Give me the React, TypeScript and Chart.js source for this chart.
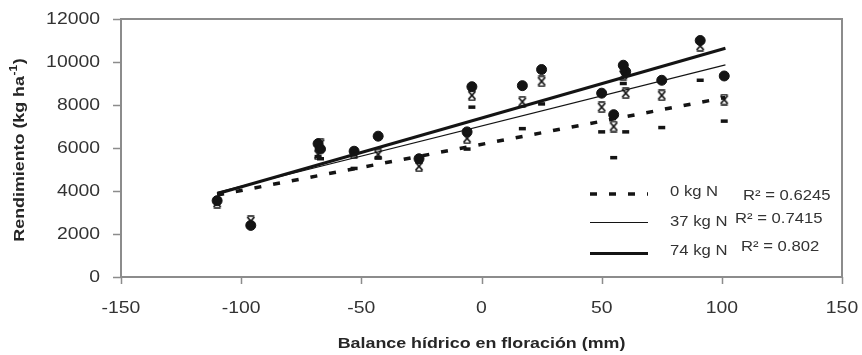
import React, { useEffect, useRef } from 'react';
import { Chart, registerables } from 'chart.js';

Chart.register(...registerables);

// ---- data ----
const xValues = [-110, -96, -68, -67, -53, -43, -26, -6, -4, 17, 25, 50, 55, 59, 60, 75, 91, 101];
const yield0 = [3600, 2450, 5600, 5500, 5050, 5550, 5350, 5950, 7900, 6900, 8050, 6750, 5550, 9000, 6750, 6950, 9150, 7250];
const yield37 = [3450, 2600, 5700, 6200, 5750, 5700, 5150, 6450, 8450, 8150, 9100, 7900, 7000, 9400, 8550, 8450, 10750, 8250];
const yield74 = [3550, 2400, 6200, 5950, 5850, 6550, 5500, 6750, 8850, 8900, 9650, 8550, 7550, 9850, 9550, 9150, 11000, 9350];

const trendX = [-110, 101.5];
const trend0 = [3810, 8350];
const trend37 = [3940, 9870];
const trend74 = [3870, 10640];

const seriesNames = ['0 kg N', '37 kg N', '74 kg N'];
const r2Labels = ['R² = 0.6245', 'R² = 0.7415', 'R² = 0.802'];

const xTicks = [-150, -100, -50, 0, 50, 100, 150];
const yTicks = [0, 2000, 4000, 6000, 8000, 10000, 12000];

const xTitle = 'Balance hídrico en floración (mm)';
const yTitleMain = 'Rendimiento (kg ha';
const yTitleSup = '-1';
const yTitleEnd = ')';

const FAMILY = '"Liberation Sans", Arial, sans-serif';
const SX = 1.19;
const INK = '#141414';

function drawText(
  ctx: CanvasRenderingContext2D,
  s: string,
  x: number,
  y: number,
  font: string,
  align: CanvasTextAlign,
  color: string,
) {
  ctx.save();
  ctx.translate(x, y);
  ctx.scale(SX, 1);
  ctx.font = font;
  ctx.fillStyle = color;
  ctx.textAlign = align;
  ctx.textBaseline = 'middle';
  ctx.fillText(s, 0, 0);
  ctx.restore();
}

const decor = {
  id: 'decor',
  beforeDatasetsDraw(chart: any) {
    const { ctx, chartArea: a, scales } = chart;
    ctx.save();
    ctx.strokeStyle = '#8c8c8c';
    ctx.lineWidth = 2;
    ctx.strokeRect(a.left, a.top, a.right - a.left, a.bottom - a.top);
    ctx.lineWidth = 1.5;
    ctx.beginPath();
    scales.y.ticks.forEach((t: any) => {
      const p = Math.round(scales.y.getPixelForValue(t.value)) + 0.5;
      ctx.moveTo(a.left - 8, p);
      ctx.lineTo(a.left, p);
    });
    scales.x.ticks.forEach((t: any) => {
      const p = Math.round(scales.x.getPixelForValue(t.value)) + 0.5;
      ctx.moveTo(p, a.bottom);
      ctx.lineTo(p, a.bottom + 7);
    });
    ctx.stroke();
    ctx.restore();
  },
  afterDraw(chart: any) {
    const { ctx, chartArea: a, scales } = chart;
    const tickFont = `16.3px ${FAMILY}`;
    scales.y.ticks.forEach((t: any) => {
      drawText(ctx, String(t.value), 100, scales.y.getPixelForValue(t.value) + 0.5, tickFont, 'right', '#333');
    });
    scales.x.ticks.forEach((t: any) => {
      drawText(ctx, String(t.value), scales.x.getPixelForValue(t.value), 309, tickFont, 'center', '#333');
    });
    // x title
    drawText(ctx, xTitle, (a.left + a.right) / 2, 344, `bold 15px ${FAMILY}`, 'center', '#262626');
    // y title with superscript
    ctx.save();
    ctx.translate(20, (a.top + a.bottom) / 2 + 2);
    ctx.rotate(-Math.PI / 2);
    ctx.scale(SX, 1);
    ctx.fillStyle = '#262626';
    ctx.textBaseline = 'middle';
    ctx.textAlign = 'left';
    const mainFont = `bold 15px ${FAMILY}`;
    const supFont = `bold 10px ${FAMILY}`;
    ctx.font = mainFont;
    const w1 = ctx.measureText(yTitleMain).width;
    const w3 = ctx.measureText(yTitleEnd).width;
    ctx.font = supFont;
    const w2 = ctx.measureText(yTitleSup).width;
    let x0 = -(w1 + w2 + w3 + 1) / 2;
    ctx.font = mainFont;
    ctx.fillText(yTitleMain, x0, 0);
    x0 += w1;
    ctx.font = supFont;
    ctx.fillText(yTitleSup, x0 + 0.5, -6);
    x0 += w2 + 1;
    ctx.font = mainFont;
    ctx.fillText(yTitleEnd, x0, 0);
    ctx.restore();

    // legend
    const sampleY = [194, 222.5, 253.5];
    const labelY = [192.5, 222, 251];
    const r2X = [743, 735, 741];
    const r2Y = [196.5, 219, 247.5];
    const legFont = `14px ${FAMILY}`;
    for (let i = 0; i < 3; i++) {
      const ds = chart.data.datasets[i];
      ctx.save();
      ctx.strokeStyle = ds.borderColor;
      ctx.lineWidth = ds.borderWidth;
      ctx.setLineDash(ds.borderDash || []);
      ctx.beginPath();
      ctx.moveTo(590, sampleY[i]);
      ctx.lineTo(648, sampleY[i]);
      ctx.stroke();
      ctx.restore();
      drawText(ctx, seriesNames[i], 670, labelY[i], legFont, 'left', '#333');
      drawText(ctx, r2Labels[i], r2X[i], r2Y[i], legFont, 'left', '#333');
    }
  },
};

export default function App() {
  const ref = useRef<HTMLCanvasElement>(null);

  useEffect(() => {
    const canvas = ref.current!;
    const xMark = document.createElement('canvas');
    xMark.width = 12;
    xMark.height = 12;
    const m = xMark.getContext('2d')!;
    m.strokeStyle = INK;
    m.lineWidth = 1.8;
    m.beginPath();
    m.moveTo(2.5, 2);
    m.lineTo(9.5, 10);
    m.moveTo(9.5, 2);
    m.lineTo(2.5, 10);
    m.stroke();
    m.lineWidth = 1.4;
    m.beginPath();
    m.moveTo(2.5, 1);
    m.lineTo(9.5, 1);
    m.moveTo(2.5, 11);
    m.lineTo(9.5, 11);
    m.stroke();

    const pts = (ys: number[]) => xValues.map((x, i) => ({ x, y: ys[i] }));
    const line = (ys: number[]) => trendX.map((x, i) => ({ x, y: ys[i] }));

    const chart = new Chart(canvas, {
      type: 'scatter',
      data: {
        datasets: [
          {
            label: seriesNames[0] + ' trend',
            data: line(trend0),
            showLine: true,
            pointRadius: 0,
            borderColor: INK,
            borderWidth: 3.5,
            borderDash: [7, 12],
            order: 0,
          },
          {
            label: seriesNames[1] + ' trend',
            data: line(trend37),
            showLine: true,
            pointRadius: 0,
            borderColor: INK,
            borderWidth: 1.2,
            order: 0,
          },
          {
            label: seriesNames[2] + ' trend',
            data: line(trend74),
            showLine: true,
            pointRadius: 0,
            borderColor: INK,
            borderWidth: 3,
            order: 0,
          },
          {
            label: seriesNames[0],
            data: pts(yield0),
            pointStyle: 'line',
            pointRadius: 3.5,
            borderColor: INK,
            backgroundColor: INK,
            borderWidth: 3.5,
            order: 1,
          },
          {
            label: seriesNames[1],
            data: pts(yield37),
            pointStyle: xMark as any,
            pointRadius: 6,
            borderColor: INK,
            backgroundColor: INK,
            order: 2,
          },
          {
            label: seriesNames[2],
            data: pts(yield74),
            pointStyle: 'circle',
            pointRadius: 5,
            borderColor: INK,
            backgroundColor: INK,
            borderWidth: 1,
            order: 3,
          },
        ] as any,
      },
      options: {
        responsive: false,
        animation: false,
        devicePixelRatio: 1,
        layout: { padding: { top: 19, right: 20, left: 0, bottom: 0 } },
        plugins: { legend: { display: false }, tooltip: { enabled: false } },
        scales: {
          x: {
            type: 'linear',
            min: -150,
            max: 150,
            grid: { display: false },
            border: { display: false },
            ticks: { display: false },
            afterBuildTicks: (s: any) => {
              s.ticks = xTicks.map((v) => ({ value: v }));
            },
            afterFit: (s: any) => {
              s.height = 78;
            },
          },
          y: {
            type: 'linear',
            min: 0,
            max: 12000,
            grid: { display: false },
            border: { display: false },
            ticks: { display: false },
            afterBuildTicks: (s: any) => {
              s.ticks = yTicks.map((v) => ({ value: v }));
            },
            afterFit: (s: any) => {
              s.width = 121;
            },
          },
        },
      } as any,
      plugins: [decor],
    });
    return () => chart.destroy();
  }, []);

  return (
    <div style={{ position: 'absolute', left: 0, top: 0, width: 862, height: 355 }}>
      <canvas ref={ref} width={862} height={355} style={{ width: 862, height: 355, display: 'block' }} />
    </div>
  );
}
